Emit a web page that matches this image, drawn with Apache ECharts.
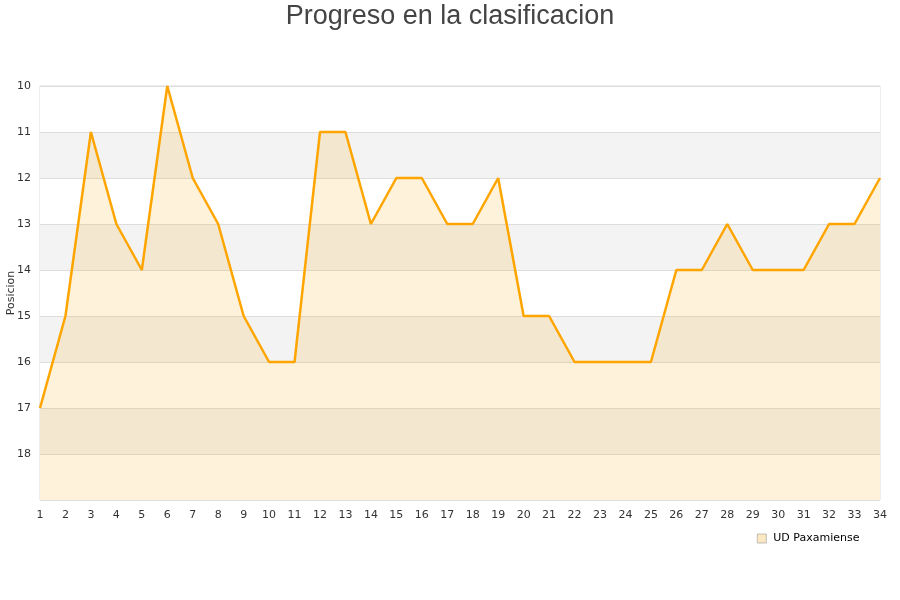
<!DOCTYPE html>
<html><head><meta charset="utf-8">
<script src="https://cdn.jsdelivr.net/npm/echarts@6/dist/echarts.min.js"></script>
<style>html,body{margin:0;padding:0;background:#fff}#c{width:900px;height:600px}</style>
</head><body><div id="c"></div>
<script>
var jornadas = [1,2,3,4,5,6,7,8,9,10,11,12,13,14,15,16,17,18,19,20,21,22,23,24,25,26,27,28,29,30,31,32,33,34];
var posiciones = [17,15,11,13,14,10,12,13,15,16,16,11,11,13,12,12,13,13,12,15,15,16,16,16,16,14,14,13,14,14,14,13,13,12];
var seriesName = 'UD Paxamiense';
var titleText = 'Progreso en la clasificacion';
var yName = 'Posicion';

var chart = echarts.init(document.getElementById('c'));
chart.setOption({
  animation: false,
  title: {text: titleText, left: 'center', top: -2,
    textStyle: {fontFamily: 'Liberation Sans, Arial, sans-serif', fontSize: 27, fontWeight: 'normal', color: '#444'}},
  grid: {left: 40, right: 20, top: 86, bottom: 100, containLabel: false, outerBoundsMode: 'none',
    show: true, borderColor: '#ddd', borderWidth: 1, backgroundColor: 'transparent'},
  legend: {data: [{name: seriesName, icon: 'rect', itemStyle: {color: '#fde8c4', borderColor: '#999', borderWidth: 0.6}}],
    left: 752, top: 528, itemWidth: 9, itemHeight: 9, itemGap: 5,
    textStyle: {fontFamily: 'DejaVu Sans', fontSize: 11, color: '#000', padding: [0,0,0,2]}},
  xAxis: {type: 'value', min: 1, max: 34, interval: 1,
    axisLine: {show: false}, axisTick: {show: false}, splitLine: {show: false},
    axisLabel: {fontFamily: 'DejaVu Sans', fontSize: 11, color: '#333', margin: 10}},
  yAxis: {type: 'value', inverse: true, min: 10, max: 19, interval: 1,
    name: yName, nameLocation: 'middle', nameGap: 23, nameRotate: 90, nameMoveOverlap: false,
    nameTextStyle: {fontFamily: 'DejaVu Sans', fontSize: 11, color: '#333'},
    axisLine: {show: false}, axisTick: {show: false},
    axisLabel: {fontFamily: 'DejaVu Sans', fontSize: 11, color: '#333', margin: 9,
      formatter: function(v){ return v === 19 ? '' : String(v); }},
    splitLine: {show: true, lineStyle: {color: '#ddd'}},
    splitArea: {show: true, areaStyle: {color: ['#ffffff', '#f3f3f3']}}},
  series: [{
    name: seriesName, type: 'line',
    data: jornadas.map(function(j, i){ return [j, posiciones[i]]; }),
    showSymbol: false, symbol: 'none',
    lineStyle: {color: '#ffa500', width: 2.5},
    itemStyle: {color: '#ffa500'},
    areaStyle: {color: 'rgba(255,165,0,0.2)', origin: 'end'}
  }]
});
</script></body></html>
